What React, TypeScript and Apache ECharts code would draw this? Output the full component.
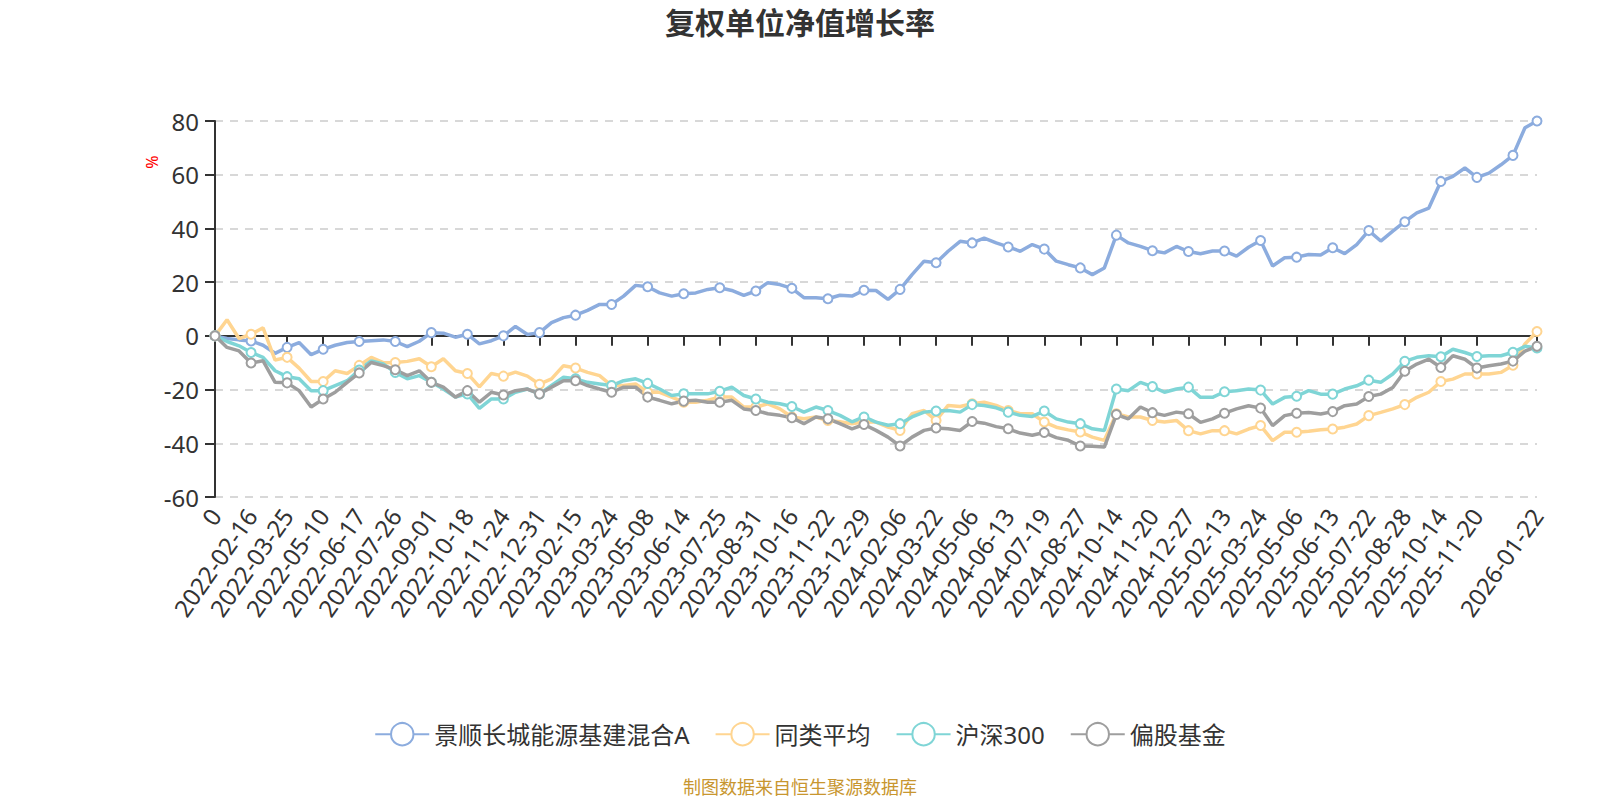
import * as echarts from "echarts";
import { useEffect, useRef } from "react";

const FONT = "'Noto Sans', 'Noto Sans CJK SC', sans-serif";

// 日期（每 3 个点一个刻度标签，首个类目显示为 "0"）
const dates = [
  "0", "2022-01-24", "2022-02-07", "2022-02-16", "2022-02-28", "2022-03-11", "2022-03-25",
  "2022-04-08", "2022-04-25", "2022-05-10", "2022-05-23", "2022-06-06", "2022-06-17",
  "2022-06-30", "2022-07-13", "2022-07-26", "2022-08-05", "2022-08-18", "2022-09-01",
  "2022-09-15", "2022-09-28", "2022-10-18", "2022-10-31", "2022-11-10", "2022-11-24",
  "2022-12-07", "2022-12-19", "2022-12-31", "2023-01-13", "2023-02-01", "2023-02-15",
  "2023-02-28", "2023-03-13", "2023-03-24", "2023-04-07", "2023-04-20", "2023-05-08",
  "2023-05-19", "2023-06-01", "2023-06-14", "2023-06-28", "2023-07-12", "2023-07-25",
  "2023-08-07", "2023-08-18", "2023-08-31", "2023-09-13", "2023-09-26", "2023-10-16",
  "2023-10-27", "2023-11-09", "2023-11-22", "2023-12-05", "2023-12-18", "2023-12-29",
  "2024-01-12", "2024-01-25", "2024-02-06", "2024-02-27", "2024-03-11", "2024-03-22",
  "2024-04-03", "2024-04-17", "2024-05-06", "2024-05-17", "2024-05-30", "2024-06-13",
  "2024-06-26", "2024-07-08", "2024-07-19", "2024-08-01", "2024-08-14", "2024-08-27",
  "2024-09-09", "2024-09-23", "2024-10-14", "2024-10-25", "2024-11-07", "2024-11-20",
  "2024-12-03", "2024-12-16", "2024-12-27", "2025-01-10", "2025-01-23", "2025-02-13",
  "2025-02-26", "2025-03-11", "2025-03-24", "2025-04-08", "2025-04-21", "2025-05-06",
  "2025-05-19", "2025-05-30", "2025-06-13", "2025-06-26", "2025-07-09", "2025-07-22",
  "2025-08-04", "2025-08-15", "2025-08-28", "2025-09-10", "2025-09-23", "2025-10-14",
  "2025-10-27", "2025-11-07", "2025-11-20", "2025-12-03", "2025-12-16", "2025-12-29",
  "2026-01-12", "2026-01-22",
];

const fundA = [
  0, -1.0, -1.5, -1.9, -3.5, -6.5, -4.3, -2.5, -7.0, -5.0, -3.5, -2.5, -2.1, -1.8,
  -1.5, -2.1, -4.0, -2.0, 1.2, 1.0, -0.5, 0.6, -3.0, -1.8, 0.0, 3.5, 0.5, 1.2,
  4.9, 6.8, 7.7, 9.5, 11.7, 11.7, 14.8, 18.8, 18.3, 16.0, 14.8, 15.7, 16.0, 17.3,
  17.9, 16.9, 15.1, 16.7, 19.8, 19.1, 17.7, 14.2, 14.2, 13.8, 15.1, 14.8, 17.0,
  16.9, 13.6, 17.3, 22.8, 27.8, 27.2, 31.5, 35.2, 34.6, 36.4, 34.6, 33.1, 31.5, 34.0,
  32.3, 27.8, 26.5, 25.3, 22.8, 25.3, 37.5, 34.6, 33.3, 31.7, 30.9, 33.3, 31.4,
  30.6, 31.6, 31.6, 29.7, 33.0, 35.5, 26.0, 29.1, 29.3, 30.3, 30.1, 32.8, 30.6, 34.0,
  39.2, 35.3, 39.0, 42.5, 45.8, 47.6, 57.5, 59.4, 62.5, 59.0, 60.6, 63.7, 67.2, 77.5, 80.0,
];

const peerAvg = [
  0, 6, -1, 0.6, 3, -9, -8, -12, -17, -17, -13, -14, -11, -8, -10, -9.9, -9.5, -8.5,
  -11.5, -8.5, -13, -14, -19, -14, -15, -13.5, -15, -18,
  -16, -11.1, -12, -13.6, -14.8, -18.5, -18.5, -17.9, -21, -21, -22.8, -24.7, -24.7,
  -24, -22.8, -22.8, -26.5, -26.5, -25.3, -27.2, -30.2, -30.9, -30.2, -31.5, -32, -32.7, -32,
  -32.1, -34, -35.2, -29, -27.8, -31.5, -25.9, -26.3, -25.3, -24.7, -25.9, -27.8, -29,
  -29, -32.1, -34, -35, -35.8, -37.7, -38.9, -29, -30.2, -30.2, -31.5, -32.1, -31.5, -35.3,
  -36.5, -35.3, -35.3, -36.5, -34.7, -33.4, -39, -35.9, -35.9, -35.5, -35, -34.7, -34,
  -32.8, -29.7, -28.5, -27.2, -25.6, -22.9, -21, -17, -16.1, -14.2, -14.2, -14.2, -13.6,
  -10.9, -3, 1.6,
];

const hs300 = [
  0, -2.1, -3.7, -6.2, -8, -13, -15.2, -16, -20.4, -20.4, -18.5, -16.7, -12.7, -9.3,
  -10.5, -13.6, -16, -14.8, -17.3, -19.8, -22.8, -21.6, -27, -23.5, -23.5, -21, -19.8, -21.6,
  -18.5, -15.4, -16, -17.3, -17.9, -18.5, -16.7, -16, -17.7, -19.8, -22.2, -21.6, -21.6,
  -21.6, -20.6, -19.1, -22.2, -23.5, -24.7, -25.3, -26.3, -28.4, -26.5, -27.8, -29.6, -32, -30.2,
  -32.1, -33.3, -32.7, -30.2, -28.4, -28, -27.8, -28.4, -25.6, -25.9, -26.8, -28.4, -29.6,
  -30, -28, -30.9, -32.1, -32.7, -34.6, -35.2, -19.8, -20.4, -17.3, -18.9, -21, -19.8, -19.1,
  -22.9, -22.9, -20.8, -20.4, -19.8, -20.2, -25.4, -22.9, -22.5, -20.4, -21.7, -21.7, -19.8,
  -18.6, -16.5, -17.3, -14.2, -9.5, -8, -7.4, -7.8, -5, -6.2, -7.7, -7.4, -7.4, -6.1, -3.9, -4.5,
];

const equityFund = [
  0, -4.3, -5.6, -10.1, -9.3, -17.3, -17.5, -20.4, -26.5, -23.5, -21, -17.3, -13.8, -9.9,
  -11.1, -12.6, -14.8, -13, -17.3, -19.1, -22.8, -20.4, -24.7, -21, -22, -20.4, -19.8, -21.6,
  -19.1, -16.7, -16.7, -18.5, -19.8, -21, -19.1, -19.1, -22.8, -24, -25.3, -24.3, -24,
  -24.7, -24.7, -24, -27.2, -27.8, -29, -29.6, -30.5, -32.7, -30.2, -30.9, -32.7, -34.6, -33,
  -35.2, -37.7, -41, -37.7, -35.2, -34.3, -34.6, -35.2, -31.9, -32.5, -33.8, -34.6, -36.2,
  -37, -36, -37.9, -38.9, -41, -41.1, -41.4, -29.3, -30.9, -26.5, -28.6, -29.6, -28.4, -29,
  -32.2, -30.9, -28.8, -27.2, -26, -26.9, -33.4, -29.7, -28.8, -28.5, -29.1, -28.2, -26,
  -25.4, -22.6, -21.7, -19.2, -13.2, -10.5, -8.7, -11.8, -7.4, -8.7, -12, -11.1, -10.5,
  -9.4, -5.7, -3.9,
];

const seriesDefs = [
  { name: "景顺长城能源基建混合A", data: fundA, color: "#8CACDE" },
  { name: "同类平均", data: peerAvg, color: "#FFD591" },
  { name: "沪深300", data: hs300, color: "#7FD5D6" },
  { name: "偏股基金", data: equityFund, color: "#9E9E9E" },
];

export default function App() {
  const ref = useRef<HTMLDivElement>(null);

  useEffect(() => {
    document.body.style.margin = "0";
    if (!ref.current) return;
    const chart = echarts.init(ref.current, undefined, { renderer: "svg" });

    chart.setOption({
      animation: false,
      backgroundColor: "#fff",
      textStyle: { fontFamily: FONT },
      title: [
        {
          text: "复权单位净值增长率",
          left: "center",
          top: 7,
          padding: 0,
          textStyle: { fontSize: 30, fontWeight: "bold", color: "#333", fontFamily: FONT },
        },
        {
          text: "制图数据来自恒生聚源数据库",
          left: "center",
          top: 778,
          padding: 0,
          textStyle: { fontSize: 18, fontWeight: "normal", color: "#C8962F", fontFamily: FONT },
        },
      ],
      legend: {
        top: 717,
        left: "center",
        itemWidth: 54,
        itemHeight: 28,
        itemGap: 25,
        textStyle: { fontSize: 24, color: "#333", fontFamily: FONT },
        data: seriesDefs.map((s) => s.name),
      },
      graphic: [
        {
          type: "text",
          x: 152,
          y: 162,
          rotation: Math.PI / 2,
          style: {
            text: "%",
            fill: "#FF0000",
            fontSize: 16,
            fontFamily: FONT,
            align: "center",
            verticalAlign: "middle",
          },
        },
      ],
      grid: {
        left: 215,
        right: 63,
        top: 121,
        bottom: 303,
        containLabel: false,
        outerBoundsMode: "none",
      },
      xAxis: {
        type: "category",
        data: dates,
        boundaryGap: false,
        axisLine: { onZero: true, lineStyle: { color: "#333", width: 2 } },
        axisTick: { show: true, length: 10, lineStyle: { color: "#333", width: 2 } },
        axisLabel: {
          interval: 2,
          showMaxLabel: true,
          rotate: 55,
          margin: 14,
          fontSize: 24,
          color: "#333",
          fontFamily: FONT,
        },
        splitLine: { show: false },
      },
      yAxis: {
        type: "value",
        min: -60,
        max: 80,
        interval: 20,
        axisLine: { show: true, lineStyle: { color: "#333", width: 2 } },
        axisTick: { show: true, length: 10, lineStyle: { color: "#333", width: 2 } },
        axisLabel: { fontSize: 24, color: "#333", margin: 16, fontFamily: FONT },
        splitLine: { lineStyle: { color: "#ccc", width: 1.5, type: [8, 7] } },
      },
      series: seriesDefs.map((s) => ({
        name: s.name,
        type: "line",
        data: s.data,
        symbol: "emptyCircle",
        symbolSize: 9,
        showSymbol: true,
        lineStyle: { width: 3.5, color: s.color },
        itemStyle: { color: s.color, borderWidth: 2 },
        emphasis: { disabled: true },
      })),
    });

    return () => chart.dispose();
  }, []);

  return <div ref={ref} style={{ width: 1600, height: 800 }} />;
}
